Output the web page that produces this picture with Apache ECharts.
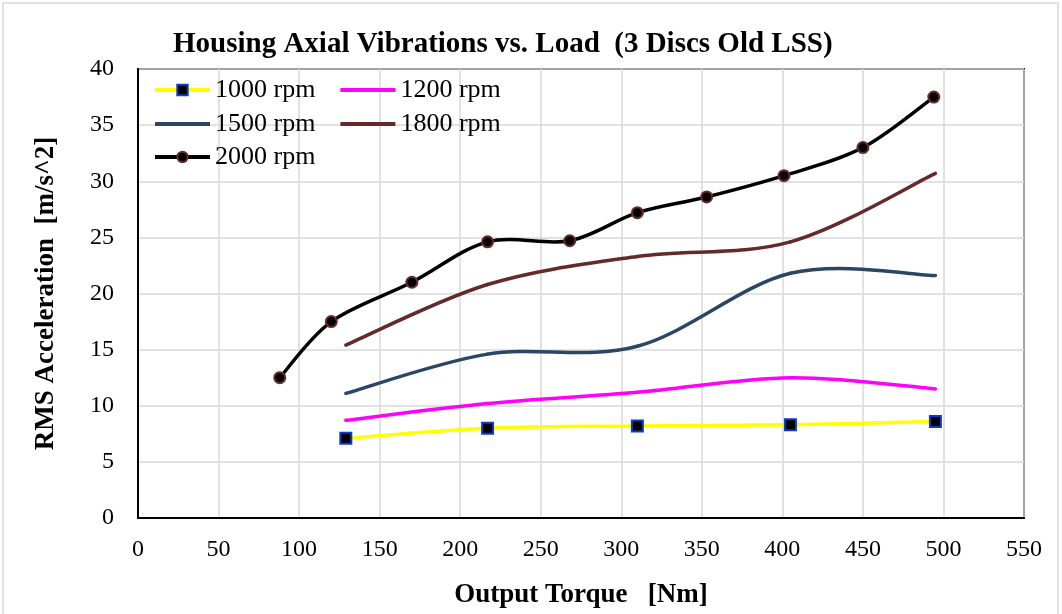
<!DOCTYPE html>
<html>
<head>
<meta charset="utf-8">
<script src="https://cdn.jsdelivr.net/npm/echarts@6/dist/echarts.min.js"></script>
<style>html,body{margin:0;padding:0;background:#fff}#c{width:1062px;height:614px}</style>
</head>
<body>
<div id="c"></div>
<script>
const torque = [129, 217, 310, 405, 495];
const rpm1000 = [7.1, 8.0, 8.2, 8.3, 8.6];
const rpm1200 = [8.7, 10.2, 11.2, 12.5, 11.5];
const rpm1500 = [11.1, 14.6, 15.3, 21.8, 21.6];
const rpm1800 = [15.4, 20.8, 23.3, 24.6, 30.7];
const torque2000 = [88, 120, 170, 217, 268, 310, 353, 401, 450, 494];
const rpm2000 = [12.5, 17.5, 21.0, 24.6, 24.7, 27.2, 28.6, 30.5, 33.0, 37.5];
const xTicks = [0, 50, 100, 150, 200, 250, 300, 350, 400, 450, 500, 550];
const yTicks = [0, 5, 10, 15, 20, 25, 30, 35, 40];

const zip = (xs, ys) => xs.map((x, i) => [x, ys[i]]);
const serif = '"Liberation Serif", "Times New Roman", serif';
const LW = 3.5;

// Excel-style smoothed curve (Catmull-Rom style Bezier), points mapped through the axes via api.coord
function smoothCurve(name, xs, ys, color, z) {
  return {
    name: name, type: 'custom', data: zip(xs, ys), encode: {x: 0, y: 1}, z: z, silent: true,
    renderItem: function (params, api) {
      if (params.dataIndex !== 0) return null;
      const p = xs.map((x, i) => api.coord([x, ys[i]]));
      const n = p.length;
      const children = [];
      for (let i = 0; i < n - 1; i++) {
        const p0 = p[Math.max(i - 1, 0)], p1 = p[i], p2 = p[i + 1], p3 = p[Math.min(i + 2, n - 1)];
        children.push({
          type: 'bezierCurve',
          shape: {
            x1: p1[0], y1: p1[1], x2: p2[0], y2: p2[1],
            cpx1: p1[0] + (p2[0] - p0[0]) / 6, cpy1: p1[1] + (p2[1] - p0[1]) / 6,
            cpx2: p2[0] - (p3[0] - p1[0]) / 6, cpy2: p2[1] - (p3[1] - p1[1]) / 6
          },
          style: {fill: null, stroke: color, lineWidth: LW, lineCap: 'round', lineJoin: 'round'}
        });
      }
      return {type: 'group', children: children};
    }
  };
}

function legendSeries(name, xs, ys, color, symbol, itemStyle, z) {
  return {
    name: name, type: 'line', data: zip(xs, ys), symbol: symbol, symbolSize: 11, showAllSymbol: true,
    lineStyle: {color: color, width: LW, opacity: 0},
    itemStyle: itemStyle || {color: color}, z: z
  };
}

const chart = echarts.init(document.getElementById('c'), null, {renderer: 'canvas'});
const legendBase = {
  orient: 'horizontal', itemWidth: 55, itemHeight: 13, itemGap: 23, padding: 0,
  textStyle: {fontFamily: serif, fontSize: 26, color: '#000'}, selectedMode: false,
  lineStyle: {opacity: 1, width: 4}
};
const noMark = {opacity: 0};
chart.setOption({
  animation: false,
  backgroundColor: '#fff',
  title: {
    text: 'Housing Axial Vibrations vs. Load  (3 Discs Old LSS)',
    left: 173, top: 30, padding: 0,
    textStyle: {fontFamily: serif, fontSize: 29, fontWeight: 'bold', color: '#000'}
  },
  graphic: [{
    type: 'rect', shape: {x: 3, y: 3, width: 1055, height: 640},
    style: {fill: 'none', stroke: '#d9d9d9', lineWidth: 1.5}, silent: true, z: -1
  }],
  legend: [
    Object.assign({}, legendBase, {left: 153, top: 77, data: ['1000 rpm', {name: '1200 rpm', itemStyle: noMark}]}),
    Object.assign({}, legendBase, {left: 153, top: 111, data: [{name: '1500 rpm', itemStyle: noMark}, {name: '1800 rpm', itemStyle: noMark}]}),
    Object.assign({}, legendBase, {left: 153, top: 144, data: ['2000 rpm']})
  ],
  grid: {left: 138, right: 38, top: 69, bottom: 90, show: true, borderColor: '#000', borderWidth: 2, containLabel: false},
  xAxis: {
    type: 'value', min: xTicks[0], max: xTicks[xTicks.length - 1], interval: 50,
    name: 'Output Torque   [Nm]', nameLocation: 'middle', nameGap: 64,
    nameTextStyle: {fontFamily: serif, fontSize: 27, fontWeight: 'bold', color: '#000'},
    axisLine: {show: true, lineStyle: {color: '#000', width: 2}},
    axisTick: {show: false},
    axisLabel: {fontFamily: serif, fontSize: 24, color: '#000', margin: 20},
    splitLine: {show: true, lineStyle: {color: '#d9d9d9', width: 1.5}}
  },
  yAxis: {
    type: 'value', min: yTicks[0], max: yTicks[yTicks.length - 1], interval: 5,
    name: 'RMS Acceleration  [m/s^2]', nameLocation: 'middle', nameGap: 78,
    nameTextStyle: {fontFamily: serif, fontSize: 27, fontWeight: 'bold', color: '#000'},
    axisLine: {show: true, lineStyle: {color: '#000', width: 2}},
    axisTick: {show: false},
    axisLabel: {fontFamily: serif, fontSize: 24, color: '#000', margin: 24},
    splitLine: {show: true, lineStyle: {color: '#d9d9d9', width: 1.5}}
  },
  series: [
    legendSeries('1000 rpm', torque, rpm1000, '#ffff00', 'rect', {color: '#000', borderColor: '#0a3ccc', borderWidth: 2}, 10),
    legendSeries('1200 rpm', torque, rpm1200, '#ff00ff', 'none', null, 10),
    legendSeries('1500 rpm', torque, rpm1500, '#2b4566', 'none', null, 10),
    legendSeries('1800 rpm', torque, rpm1800, '#642a2a', 'none', null, 10),
    legendSeries('2000 rpm', torque2000, rpm2000, '#000000', 'circle', {color: '#000', borderColor: '#6b2a2a', borderWidth: 2}, 10),
    smoothCurve('c1000', torque, rpm1000, '#ffff00', 3),
    smoothCurve('c1200', torque, rpm1200, '#ff00ff', 3),
    smoothCurve('c1500', torque, rpm1500, '#2b4566', 3),
    smoothCurve('c1800', torque, rpm1800, '#642a2a', 3),
    smoothCurve('c2000', torque2000, rpm2000, '#000000', 3)
  ]
});
</script>
</body>
</html>
